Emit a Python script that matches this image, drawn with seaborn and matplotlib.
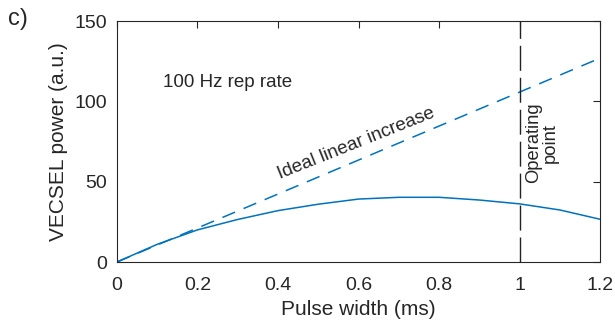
import matplotlib
matplotlib.use("Agg")
import matplotlib.pyplot as plt
import seaborn as sns
import numpy as np
import pandas as pd

pulse_width = [0.0, 0.1, 0.2, 0.3, 0.4, 0.5, 0.6, 0.7, 0.8, 0.9, 1.0, 1.1, 1.2]
power = [0.0, 11.0, 20.0, 26.5, 32.0, 36.0, 39.2, 40.3, 40.3, 38.6, 36.2, 32.4, 26.6]
# ideal linear increase endpoints
ideal_x = [0.0, 1.2]
ideal_y = [0.0, 127.0]
operating_point = 1.0

sns.set_style("white")
plt.rcParams["font.family"] = ["Liberation Sans", "DejaVu Sans"]
blue = "#0072BD"
dark = "#262626"

fig = plt.figure(figsize=(6.15, 3.3), dpi=100)
ax = fig.add_axes([0.190, 0.206, 0.786, 0.730])

df = pd.DataFrame({"x": pulse_width, "y": power})
sns.lineplot(data=df, x="x", y="y", ax=ax, color=blue, lw=1.1)
ideal = pd.DataFrame({"x": ideal_x, "y": ideal_y})
sns.lineplot(data=ideal, x="x", y="y", ax=ax, color=blue, lw=1.1,
             linestyle=(0, (9, 6)))
ax.axvline(operating_point, color="#222222", lw=1.0, linestyle=(0, (18, 5)))

ax.set_xlim(0, 1.2)
ax.set_ylim(0, 150)
ax.set_xticks([0, 0.2, 0.4, 0.6, 0.8, 1, 1.2])
ax.set_xticklabels(["0", "0.2", "0.4", "0.6", "0.8", "1", "1.2"])
ax.set_yticks([0, 50, 100, 150])
ax.tick_params(direction="in", top=True, right=True, length=5, labelsize=14,
               width=0.8, color=dark, labelcolor=dark)
ax.tick_params(axis="x", pad=11)
ax.tick_params(axis="y", pad=7)
for s in ax.spines.values():
    s.set_color(dark)
    s.set_linewidth(0.8)
ax.set_xlabel("Pulse width (ms)", fontsize=15, labelpad=4, color=dark)
ax.set_ylabel("VECSEL power (a.u.)", fontsize=15, labelpad=5, color=dark)

ax.text(0.114, 112, "100 Hz rep rate", fontsize=13.5, va="center", ha="left",
        color=dark)
ax.text(0.594, 74, "Ideal linear increase", fontsize=13.5, rotation=21.8,
        ha="center", va="center", rotation_mode="anchor", color=dark)
ax.text(1.056, 74, "Operating\npoint", fontsize=13.2, rotation=90,
        ha="center", va="center", linespacing=1.0, color=dark)
fig.text(0.013, 0.976, "c)", fontsize=17, va="top", ha="left", color=dark)

fig.savefig("out.png", dpi=100)
